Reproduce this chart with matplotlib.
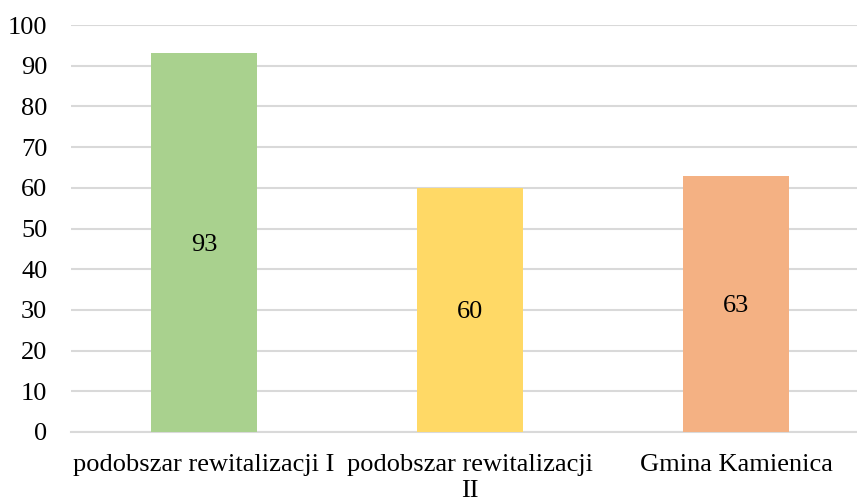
import matplotlib
matplotlib.use("Agg")
import matplotlib.pyplot as plt
import numpy as np

# ── Data ──
categories = ["podobszar rewitalizacji I", "podobszar rewitalizacji\nII", "Gmina Kamienica"]
values = [93, 60, 63]
colors = ["#A9D18E", "#FFD966", "#F4B183"]
yticks = [0, 10, 20, 30, 40, 50, 60, 70, 80, 90, 100]

plt.rcParams["font.family"] = ["Liberation Serif", "DejaVu Serif"]

fig = plt.figure(figsize=(8.57, 5.01), dpi=100)
# axes runs a bit past the right edge, like the original
ax = fig.add_axes([71 / 857, (501 - 432) / 501, 798 / 857, 407 / 501])

x = np.arange(len(categories))
bars = ax.bar(x, values, width=0.4, color=colors, zorder=3)

for xi, v in zip(x, values):
    ax.text(xi, v / 2, str(v), ha="center", va="center_baseline", fontsize=19, zorder=4)

ax.set_xlim(-0.5, 2.5)
ax.set_ylim(0, 100)
ax.set_yticks(yticks)
ax.set_yticklabels([str(t) for t in yticks], fontsize=19)
ax.set_xticks(x)
ax.set_xticklabels(categories, fontsize=19, linespacing=1.25)
ax.tick_params(axis="both", length=0)
ax.tick_params(axis="x", pad=16)
ax.tick_params(axis="y", pad=17)

ax.grid(axis="y", color="#D9D9D9", linewidth=1.5, zorder=0)
for side in ["top", "right", "left"]:
    ax.spines[side].set_visible(False)
ax.spines["bottom"].set_color("#D9D9D9")
ax.spines["bottom"].set_linewidth(1.5)

plt.savefig("out.png", dpi=100)
